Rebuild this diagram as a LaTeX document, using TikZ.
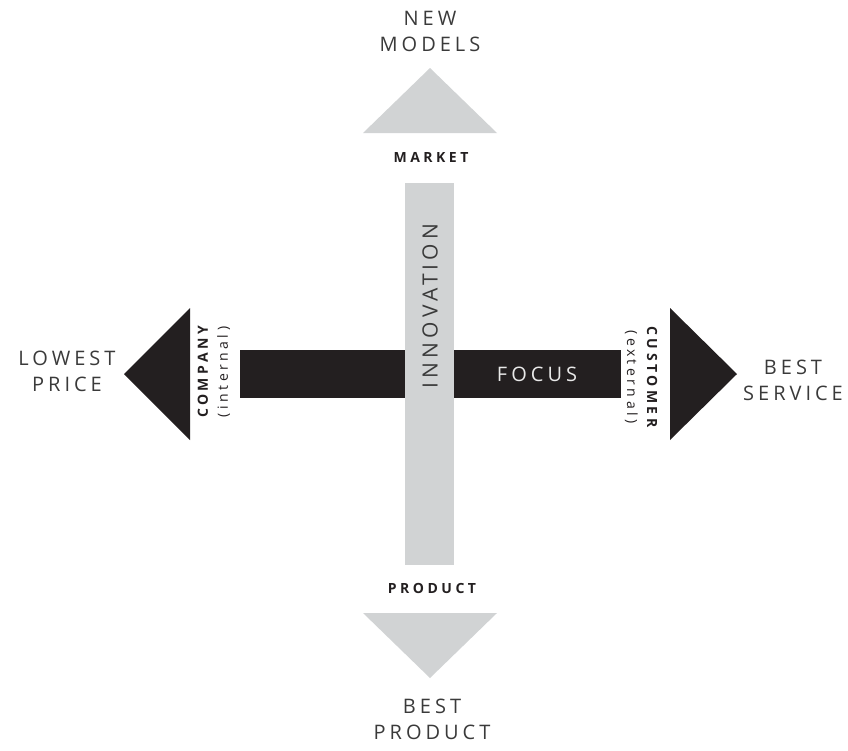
\documentclass[tikz,border=0pt]{standalone}
\usepackage{fontspec}
\setmainfont{Open Sans}
\newfontfamily\widefont[LetterSpace=20]{Open Sans}
\newfontfamily\widebold[LetterSpace=25]{Open Sans Bold}
\newfontfamily\narrowfont[LetterSpace=25]{Open Sans}
\definecolor{ink}{HTML}{231F20}
\definecolor{pale}{HTML}{D1D3D4}
\definecolor{txt}{HTML}{3A3A3A}
\begin{document}
\begin{tikzpicture}[x=1pt,y=-1pt,
  big/.style={text=txt,align=center,inner sep=0pt,font=\fontsize{20}{26}\selectfont\widefont},
  tag/.style={text=ink,inner sep=0pt,font=\fontsize{14}{15}\selectfont\widebold},
  side/.style={text=ink,align=center,inner sep=0pt,font=\fontsize{14}{20}\selectfont\widebold},
  bar/.style={inner sep=0pt}]
\useasboundingbox (0,0) rectangle (848,750);
% shapes
\fill[ink] (240,350) rectangle (621,398);
\fill[pale] (405,183) rectangle (454,565);
\fill[pale] (430,68) -- (497,133) -- (363,133) -- cycle;
\fill[pale] (363,613) -- (497,613) -- (430,678) -- cycle;
\fill[ink] (124,374) -- (190,308) -- (190,440) -- cycle;
\fill[ink] (670,308) -- (737,374) -- (670,440) -- cycle;
% texts
\node[big] (newmodels) at (430,31) {NEW\\MODELS};
\node[big] (lowest) at (67,371) {LOWEST\\PRICE};
\node[big] (bestservice) at (793,380) {BEST\\SERVICE};
\node[big] (bestproduct) at (432,719) {BEST\\PRODUCT};
\node[tag] (market) at (431,157) {MARKET};
\node[tag] (product) at (432,588) {PRODUCT};
\node[big,rotate=90,font=\fontsize{21}{26}\selectfont\widefont] (innov) at (430,306) {INNOVATION};
\node[big,text=white!90!ink] (focus) at (537,374) {FOCUS};
\node[side,rotate=90] (company) at (214,372) {COMPANY\\{\narrowfont\mdseries (internal)}};
\node[side,rotate=-90] (customer) at (641,377) {CUSTOMER\\{\narrowfont\mdseries (external)}};
\end{tikzpicture}
\end{document}
